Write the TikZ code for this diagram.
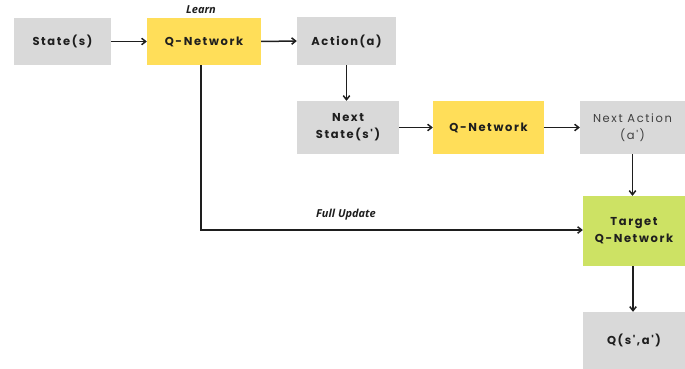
\documentclass[tikz,border=0pt]{standalone}
\usepackage{fontspec}
\usetikzlibrary{arrows.meta}
\newfontfamily\boxfont[LetterSpace=14]{Poppins}
\newfontfamily\notefont{Open Sans}
\definecolor{boxgray}{HTML}{D9D9D9}
\definecolor{boxyellow}{HTML}{FFDE59}
\definecolor{boxgreen}{HTML}{CDE264}
\definecolor{inkdark}{HTML}{1E1E1E}
\tikzset{
  blk/.style={fill=boxgray, draw=none, inner sep=0pt, align=center,
    font=\boxfont\fontsize{11.5}{17}\selectfont\bfseries, text=inkdark},
  blkthin/.style={blk, font=\boxfont\fontsize{11.5}{17}\selectfont, text=inkdark!85},
  yel/.style={fill=boxyellow},
  grn/.style={fill=boxgreen},
  flow/.style={draw=inkdark, line width=1.5pt, -{Straight Barb[length=4pt,width=6.5pt]}},
  note/.style={font=\notefont\fontsize{11}{13}\selectfont\bfseries\itshape, text=inkdark}
}
\begin{document}
\begin{tikzpicture}[x=1pt,y=-1pt]
  \useasboundingbox (0,0) rectangle (685,369);
  % blocks
  \node[blk, minimum width=97pt, minimum height=47pt] (s) at (62.5,41.5) {State(s)};
  \node[blk, yel, minimum width=114pt, minimum height=47pt] (q1) at (204,41.5) {Q-Network};
  \node[blk, minimum width=99pt, minimum height=48pt] (a) at (346.5,41) {Action(a)};
  \node[blk, minimum width=102pt, minimum height=53pt] (ns) at (348,127.5) {Next\\State(s')};
  \node[blk, yel, minimum width=111pt, minimum height=53pt] (q2) at (488.5,127.5) {Q-Network};
  \node[blkthin, minimum width=105pt, minimum height=53pt] (na) at (632.5,127.5) {Next Action\\(a')};
  \node[blk, grn, minimum width=102pt, minimum height=70pt] (t) at (634,231) {Target\\Q-Network};
  \node[blk, minimum width=102pt, minimum height=57pt] (qv) at (634,340.5) {Q(s',a')};
  % labels
  \node[note] (learn) at (201,10) {Learn};
  \node[note] (full) at (346,215) {Full Update};
  % connectors
  \draw[flow] (s.east) -- (q1.west);
  \draw[flow] (q1.east) -- (a.west);
  \draw[flow] (a.south) -- (a.south |- ns.north);
  \draw[flow] (ns.east) -- (q2.west);
  \draw[flow] (q2.east) -- (na.west);
  \draw[flow] (na.south) -- (na.south |- t.north);
  \coordinate (qdrop) at ([xshift=-3pt]q1.south);
  \draw[flow] (qdrop) |- ([yshift=1pt]t.west);
  \draw[flow] ([xshift=-1pt]t.south) -- ([xshift=-1pt]qv.north);
\end{tikzpicture}
\end{document}
